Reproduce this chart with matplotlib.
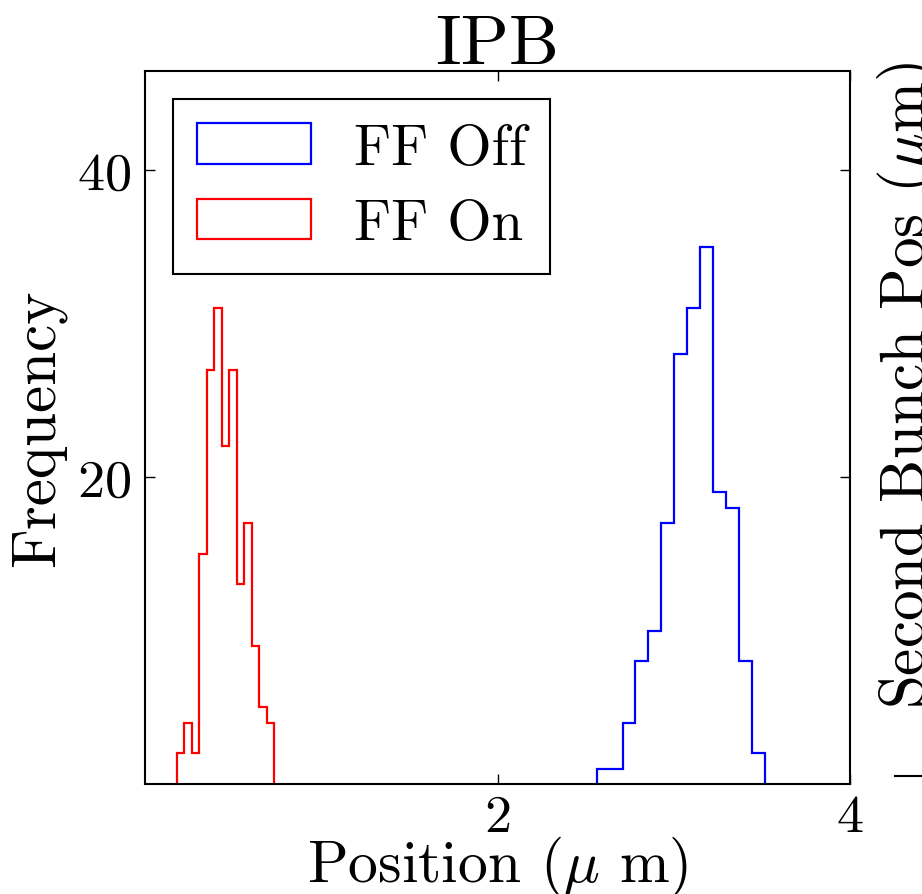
import numpy as np
import matplotlib
matplotlib.use("Agg")
import matplotlib.pyplot as plt
from matplotlib.lines import Line2D

plt.rcParams['font.family'] = 'cmr10'
plt.rcParams['mathtext.fontset'] = 'cm'
plt.rcParams['axes.formatter.use_mathtext'] = True

# histogram counts (13 bins each)
ff_off_counts = [1, 1, 4, 8, 10, 17, 28, 31, 35, 19, 18, 8, 2]
ff_off_range = (2.563, 3.516)
ff_on_counts = [2, 4, 2, 15, 27, 31, 22, 27, 13, 17, 9, 5, 4]
ff_on_range = (0.180, 0.734)

x_ticks = [2, 4]
y_ticks = [20, 40]


def hist_from_counts(ax, counts, rng, color, label):
    edges = np.linspace(rng[0], rng[1], len(counts) + 1)
    centers = 0.5 * (edges[:-1] + edges[1:])
    ax.hist(centers, bins=edges, weights=counts, histtype='step',
            color=color, linewidth=1.6, label=label)


fig = plt.figure(figsize=(9.22, 8.95), dpi=100)
ax = fig.add_axes([145 / 922, 1 - 785 / 895, 705 / 922, 713 / 895])

hist_from_counts(ax, ff_off_counts, ff_off_range, 'blue', 'FF Off')
hist_from_counts(ax, ff_on_counts, ff_on_range, 'red', 'FF On')

ax.set_xlim(0, 4)
ax.set_ylim(0, 46.45)
ax.set_xticks(x_ticks)
ax.set_yticks(y_ticks)
ax.tick_params(direction='in', top=True, right=True, length=7, width=1,
               labelsize=39)
ax.tick_params(axis='x', pad=7)
ax.tick_params(axis='y', pad=10)
for s in ax.spines.values():
    s.set_linewidth(1.5)

ax.set_title('IPB', fontsize=51, pad=6)
ax.set_xlabel(r'Position ($\mu$ m)', fontsize=43, labelpad=-5)
ax.set_ylabel('Frequency', fontsize=44, labelpad=8)

leg = ax.legend(loc='upper left', fontsize=41, fancybox=False, framealpha=1,
                edgecolor='black', handlelength=2.0, handleheight=0.72,
                handletextpad=0.75, borderpad=0.42, labelspacing=0.42,
                borderaxespad=0.5)
leg.get_frame().set_linewidth(1.5)

# neighbouring panel, cut off at the right edge
fig.text(0.985, 1 - 385 / 895, r'Second Bunch Pos ($\mu$m)', rotation=90,
         ha='center', va='center', fontsize=44)
fig.add_artist(Line2D([895 / 922, 1.0], [1 - 777 / 895, 1 - 777 / 895],
                      color='black', linewidth=1.5))

fig.savefig('out.png', dpi=100)
